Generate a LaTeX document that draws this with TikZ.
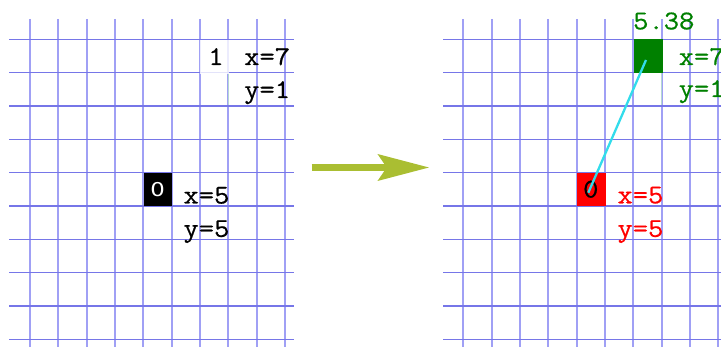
\documentclass[tikz,border=0pt]{standalone}
\usepackage{fontspec}
\newfontfamily\labelfont[FakeStretch=1.1,FakeBold=0.6]{Latin Modern Mono}
\newfontfamily\zerofont[FakeStretch=1.2]{DejaVu Sans}
\usetikzlibrary{arrows.meta}
\definecolor{gridv}{RGB}{160,160,245}
\definecolor{gridh}{RGB}{118,118,232}
\definecolor{arrowgreen}{RGB}{170,190,50}
\definecolor{linkcyan}{RGB}{50,220,235}
\definecolor{darkgreen}{RGB}{0,128,0}
\definecolor{faintline}{RGB}{180,215,210}
\begin{document}
\begin{tikzpicture}[x=1pt,y=-1pt,
  vline/.style={draw=gridv,line width=1.8pt},
  hline/.style={draw=gridh,line width=1.3pt},
  lbl/.style={inner sep=0pt,anchor=base west,font=\labelfont\fontsize{27}{30}\selectfont},
  cellbox/.style={minimum width=28.33pt,minimum height=33.33pt,inner sep=0pt,anchor=north west},
  celltext/.style={inner sep=0pt,anchor=base,font=\labelfont\fontsize{27}{30}\selectfont}
]
\useasboundingbox (0,0) rectangle (721,347);
% grids
\foreach \i in {0,...,9}{
  \draw[vline] ({30+28.333*\i},19) -- ({30+28.333*\i},347);
  \draw[vline] ({463.3+28.333*\i},19) -- ({463.3+28.333*\i},347);
}
\foreach \j in {0,...,9}{
  \draw[hline] (9,{39.3+33.333*\j}) -- (294,{39.3+33.333*\j});
  \draw[hline] (443,{39.3+33.333*\j}) -- (721,{39.3+33.333*\j});
}
\draw[faintline,line width=1.5pt] (228.3,73.5) -- (228.3,105.2);
\draw[faintline,line width=1.5pt] (661.7,73.5) -- (661.7,105.2);

% left panel
\node[cellbox,fill=white,fill opacity=0.8] (b1) at (200,40.2) {};
\node[celltext] (t1) at (216,65) {1};
\node[lbl] (bx) at (244,65) {x=7};
\node[lbl] (by) at (244,98) {y=1};
\node[cellbox,fill=black,text=white,font=\zerofont\fontsize{19}{20}\selectfont] (b0) at (143.3,172.7) {\raisebox{-1.5pt}{0}};
\node[lbl] (ax) at (183.3,203.5) {x=5};
\node[lbl] (ay) at (183.3,236.8) {y=5};

% arrow
\coordinate (arrS) at (311.7,167.5);
\coordinate (arrE) at (429.3,167.5);
\draw[arrowgreen,line width=6.5pt,-{Stealth[length=51pt,width=26pt,inset=8.5pt]}] (arrS) -- (arrE);

% right panel
\node[cellbox,fill=darkgreen] (g1) at (634,39.3) {};
\node[cellbox,fill=red] (r0) at (577,172.7) {};
\node[lbl,text=darkgreen] (dist) at (633,29.3) {5.38};
\node[lbl,text=darkgreen] (gx) at (678.5,65) {x=7};
\node[lbl,text=darkgreen] (gy) at (678.5,97) {y=1};
\node[lbl,text=red] (rx) at (617.3,203.3) {x=5};
\node[lbl,text=red] (ry) at (617.3,236.8) {y=5};
\node[celltext] (r0t) at (590.8,197.5) {0};
\coordinate (gc) at (646,60);
\coordinate (rc) at (588.3,192.7);
\draw[linkcyan,line width=2.3pt] (gc) -- (rc);
\end{tikzpicture}
\end{document}
